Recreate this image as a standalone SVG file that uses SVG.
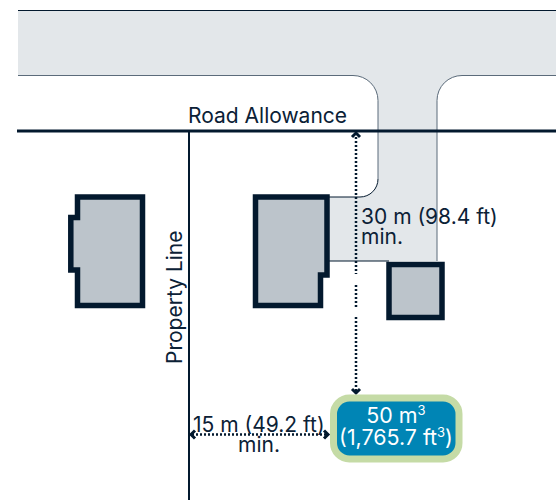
<svg xmlns="http://www.w3.org/2000/svg" width="556" height="500" viewBox="0 0 556 500">
<defs>
<style>
text{font-family:"Inter","Liberation Sans",sans-serif;fill:#0b2136;font-size:21px}
.tank{fill:#fff;font-size:21.400px}
.house{fill:#bcc4cb;stroke:#03192e;stroke-width:5.500}
.dot{fill:none;stroke:#03192e;stroke-width:2.500;stroke-dasharray:2 2}
.edge{fill:none;stroke:#03192e;stroke-width:1}
.head{fill:none;stroke:#03192e;stroke-width:3}
</style>
</defs>
<g id="road">
<path d="M18 10.500H556V75.500H462A25 25 0 0 0 437 100.500V261H329V197H360A18 18 0 0 0 378 179V100.500A25 25 0 0 0 353 75.500H18Z" fill="#e3e7ea"/>
<path class="edge" d="M18 10.500H556"/>
<path d="M18 75.500H353A25 25 0 0 1 378 100.500V179M437 261V100.500A25 25 0 0 1 462 75.500H556" fill="none" stroke="#5b6b7a" stroke-width="1"/>
<path class="edge" d="M329 261H389"/>
<path class="edge" d="M329 197H360A18 18 0 0 0 378 179"/>
</g>
<g id="house-left"><path class="house" d="M77.500 197H142.500V305.500H77.500V270H70.800V217.500H77.500Z"/></g>
<g id="house-center"><path class="house" d="M255.500 197H327V275H320.500V305.500H255.500Z"/></g>
<g id="garage"><rect class="house" x="389" y="264.500" width="53" height="53"/></g>
<g id="connectors">
<path d="M17 131H556" stroke="#03192e" stroke-width="3" fill="none"/>
<path d="M189 131V500" stroke="#03192e" stroke-width="2" fill="none"/>
<path class="dot" d="M356 137V274M356 285V307M356 317V391"/>
<path class="head" d="M352 137L356 133L360 137M352 389L356 393L360 389"/>
<path class="dot" d="M192 434.500H326"/>
<path class="head" d="M195 430.500L191 434.500L195 438.500M324 430.500L328 434.500L324 438.500"/>
</g>
<g id="tank">
<rect x="333.500" y="398" width="125.500" height="61" rx="16" fill="#0085b5" stroke="#c5dba6" stroke-width="7"/>
<text class="tank" x="396" y="423" text-anchor="middle">50 m<tspan font-size="13" dy="-8">3</tspan></text>
<text class="tank" x="396" y="445" text-anchor="middle">(1,765.7 ft<tspan font-size="13" dy="-8">3</tspan><tspan dy="8">)</tspan></text>
</g>
<g id="labels">
<text x="188" y="122.500">Road Allowance</text>
<text transform="translate(182 364) rotate(-90)">Property Line</text>
<text x="361" y="224">30 m (98.4 ft)</text>
<text x="361" y="244">min.</text>
<text x="193" y="432">15 m (49.2 ft)</text>
<text x="238" y="452">min.</text>
</g>
</svg>
